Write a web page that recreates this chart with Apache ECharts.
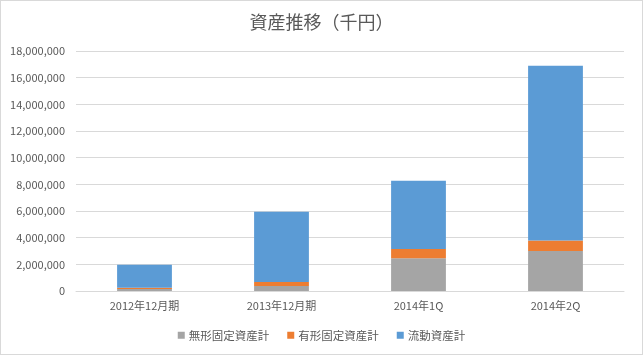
<!DOCTYPE html>
<html><head><meta charset="utf-8">
<script src="https://cdn.jsdelivr.net/npm/echarts@6/dist/echarts.min.js"></script>
<style>html,body{margin:0;padding:0;background:#fff}#c{width:643px;height:355px;box-sizing:border-box;border:1px solid #d9d9d9}</style>
</head><body><div id="c"></div>
<script>
const categories = ['2012年12月期', '2013年12月期', '2014年1Q', '2014年2Q'];
const intangible = [150000, 370000, 2460000, 3000000];
const tangible = [100000, 300000, 690000, 790000];
const current = [1720000, 5280000, 5110000, 13100000];
const seriesNames = ['無形固定資産計', '有形固定資産計', '流動資産計'];
const colors = ['#a5a5a5', '#ed7d31', '#5b9bd5'];
const font = '"Noto Sans CJK JP", "Noto Sans", sans-serif';
const chart = echarts.init(document.getElementById('c'));
chart.setOption({
  animation: false,
  textStyle: {fontFamily: font},
  title: {text: '資産推移（千円）', left: 'center', top: 7,
    textStyle: {fontSize: 18, fontWeight: 'normal', color: '#595959', fontFamily: font}},
  legend: {bottom: 8, left: 'center', itemWidth: 7, itemHeight: 7, itemGap: 18, icon: 'rect',
    textStyle: {fontSize: 11.5, color: '#595959', fontFamily: font, padding: [0, 0, 0, -1]},
    data: seriesNames},
  grid: {left: 75, right: 18, top: 50, bottom: 63, containLabel: false},
  xAxis: {type: 'category', data: categories,
    axisLine: {lineStyle: {color: '#d9d9d9'}}, axisTick: {show: false},
    axisLabel: {color: '#595959', fontSize: 11, margin: 9, fontFamily: font}},
  yAxis: {type: 'value', min: 0, max: 18000000, interval: 2000000,
    axisLine: {show: false}, axisTick: {show: false},
    splitLine: {lineStyle: {color: '#d9d9d9'}},
    axisLabel: {color: '#595959', fontSize: 11, margin: 11, fontFamily: font,
      formatter: v => v.toLocaleString('en-US')}},
  series: [
    {name: seriesNames[0], type: 'bar', stack: 's', data: intangible, barWidth: '40%', itemStyle: {color: colors[0]}},
    {name: seriesNames[1], type: 'bar', stack: 's', data: tangible, itemStyle: {color: colors[1]}},
    {name: seriesNames[2], type: 'bar', stack: 's', data: current, itemStyle: {color: colors[2]}}
  ]
});
</script></body></html>
